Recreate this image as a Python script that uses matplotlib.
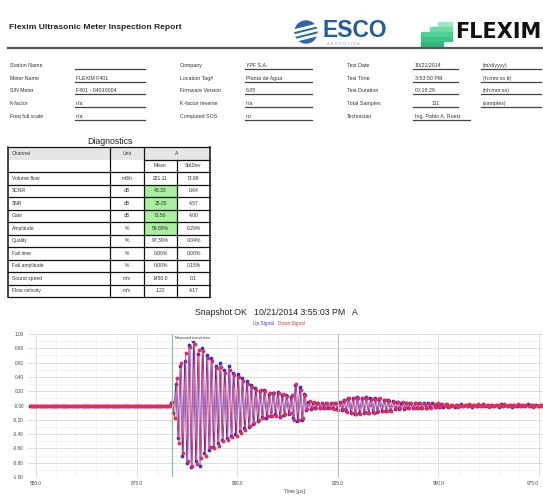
import matplotlib
matplotlib.use("Agg")
import matplotlib.pyplot as plt
from matplotlib.patches import Rectangle, Circle, Polygon
import numpy as np

plt.rcParams['font.family'] = ['Liberation Sans', 'DejaVu Sans']

# ---- report header / info data ----
report_title = "Flexim Ultrasonic Meter Inspection Report"

info_left_labels = ["Station Name", "Meter Name", "S/N Meter", "K-factor", "Freq full scale"]
info_left_values = ["", "FLEXIM F401", "F401 - 04010004", "n/a", "n/a"]
info_mid_labels = ["Company", "Location Tag#", "Firmware Version", "K-factor reverse", "Computed SOS"]
info_mid_values = ["YPF S.A.", "Planta de Agua", "6.05", "n/a", "no"]
info_right_labels = ["Test Date", "Test Time", "Test Duration", "Total Samples", "Technician"]
info_right_values = ["10/21/2014", "3:53:50 PM", "00:18:29", "111", "Ing. Pablo A. Ruetz"]
info_right_units = ["(m/d/yyyy)", "(h:mm:ss tt)", "(hh:mm:ss)", "(samples)", ""]

# ---- diagnostics table ----
diag_channels = ["Volume flow", "SCNR", "SNR", "Gain", "Amplitude", "Quality",
                 "Fail time", "Fail amplitude", "Sound speed", "Flow velocity"]
diag_units = ["m3/h", "dB", "dB", "dB", "%", "%", "%", "%", "m/s", "m/s"]
diag_mean = ["221.11", "43.33", "25.05", "73.50", "59.89%", "97.30%", "0.00%", "0.00%", "1450.0", "1.22"]
diag_std = ["73.99", "0.64", "4.57", "4.00", "0.29%", "0.04%", "0.00%", "0.15%", "0.1", "4.17"]
diag_green = [False, True, True, True, True, False, False, False, False, False]

# ---- snapshot signal data ----
chart_title = "Snapshot OK   10/21/2014 3:55:03 PM   A"
t_start = 848.4        # us, first sample
t_step = 0.55          # us, sample spacing
transit_marker = 883.8
end_marker = 925.0
x_ticks = [850.0, 875.0, 900.0, 925.0, 950.0, 975.0]

up_signal = [0.0] * 64 + [
    0.03, -0.10, 0.30, -0.45, 0.55, -0.70, 0.62, -0.80, 0.85, -0.86, 0.90, -0.78, 0.72, -0.84, 0.80, -0.66, 0.70,
    -0.62, 0.66, -0.58, 0.55, -0.52, 0.60, -0.48, 0.50, -0.46, 0.55, -0.42, 0.46, -0.40, 0.44, -0.36, 0.38,
    -0.32, 0.34, -0.30, 0.28, -0.26, 0.24, -0.22,
    0.20, -0.16, 0.22, -0.17, 0.16, -0.14, 0.18, -0.12, 0.19, -0.16, 0.15, -0.13, 0.14, -0.12, 0.12,
    -0.18, 0.28, -0.22, 0.26, -0.20, 0.16,
    -0.06, 0.05, -0.05, 0.04, -0.04, 0.04, -0.03, 0.03, -0.03, 0.03, -0.04, 0.03, -0.04, 0.04, -0.05, 0.05, -0.06, 0.07,
    -0.08, 0.10, -0.10, 0.11, -0.12, 0.12, -0.11, 0.11, -0.10, 0.12, -0.10, 0.10, -0.09, 0.10, -0.09, 0.09,
    -0.08, 0.08, -0.07, 0.07, -0.06, 0.06,
    -0.05, 0.05, -0.05, 0.04, -0.05, 0.04, -0.04, 0.04, -0.04, 0.03, -0.04, 0.03, -0.03, 0.03, -0.03, 0.03,
    -0.02, 0.03, -0.02, 0.02, -0.02, 0.02, -0.02, 0.02, -0.02,
    -0.01, 0.01, -0.015, 0.01, -0.01, 0.015, -0.01, 0.01, -0.01, 0.01,
    -0.015, 0.01, -0.01, 0.01, -0.01, 0.015, -0.01, 0.01, -0.01, 0.01,
    -0.01, 0.01, -0.02, 0.015, -0.01, 0.01, -0.01, 0.01, -0.015, 0.01,
    -0.01, 0.01, -0.01, 0.01, -0.01, 0.015, -0.01, 0.01, -0.01, 0.01,
    -0.01, 0.01, -0.01, 0.01, -0.015, 0.01, -0.01, 0.01, -0.01, 0.01,
]
down_signal = [0.0] * 64 + [
    0.05, -0.18, 0.38, -0.52, 0.60, -0.66, 0.74, -0.78, 0.82, -0.84, 0.86, -0.82, 0.78, -0.74, 0.76, -0.70, 0.66,
    -0.58, 0.62, -0.60, 0.52, -0.56, 0.54, -0.50, 0.46, -0.48, 0.50, -0.44, 0.42, -0.42, 0.40, -0.38, 0.34,
    -0.34, 0.30, -0.28, 0.26, -0.24, 0.22, -0.20,
    0.22, -0.18, 0.20, -0.15, 0.18, -0.15, 0.17, -0.14, 0.17, -0.14, 0.16, -0.12, 0.13, -0.11, 0.14,
    -0.20, 0.30, -0.20, 0.22, -0.18, 0.14,
    -0.05, 0.06, -0.04, 0.05, -0.03, 0.03, -0.04, 0.02, -0.03, 0.04, -0.03, 0.04, -0.05, 0.03, -0.06, 0.05, -0.05, 0.08,
    -0.09, 0.11, -0.11, 0.10, -0.12, 0.11, -0.12, 0.10, -0.09, 0.11, -0.10, 0.09, -0.10, 0.09, -0.08, 0.10,
    -0.07, 0.08, -0.08, 0.06, -0.07, 0.05,
    -0.04, 0.05, -0.04, 0.05, -0.04, 0.04, -0.03, 0.04, -0.03, 0.04, -0.03, 0.03, -0.04, 0.02, -0.03, 0.02,
    -0.03, 0.02, -0.02, 0.03, -0.02, 0.02, -0.01, 0.02, -0.02,
    0.01, -0.01, 0.01, -0.015, 0.01, -0.01, 0.01, -0.01, 0.015, -0.01,
    0.01, -0.01, 0.015, -0.01, 0.01, -0.01, 0.01, -0.015, 0.01, -0.01,
    0.01, -0.01, 0.01, -0.01, 0.015, -0.01, 0.01, -0.01, 0.01, -0.01,
    0.015, -0.01, 0.01, -0.01, 0.01, -0.01, 0.01, -0.015, 0.01, -0.01,
    0.01, -0.01, 0.01, -0.01, 0.01, -0.01, 0.015, -0.01, 0.01, -0.01,
]

W, H = 543, 498
fig = plt.figure(figsize=(W / 100, H / 100), dpi=100)
fig.patch.set_facecolor("white")

# page overlay in pixel coordinates
pg = fig.add_axes([0, 0, 1, 1])
pg.set_xlim(0, W)
pg.set_ylim(H, 0)
pg.axis("off")

# header
pg.text(9, 27, report_title, fontsize=6.1, fontweight="bold", va="center", color="#222")
pg.plot([8, 543], [48, 48], color="#555", lw=1.6)

# ESCO logo
pg.add_patch(Circle((306, 32), 11, color="#2a67a8"))
for dy in (-5, 0, 5):
    pg.add_patch(Polygon([(294, 32 + dy + 3), (318, 32 + dy - 3), (318, 32 + dy - 1.5), (294, 32 + dy + 4.5)],
                         color="white"))
pg.text(323, 36.5, "ESCO", fontsize=16.5, fontweight="bold", color="#1f5d9e", va="baseline")
pg.text(327, 43.8, "A R G E N T I N A", fontsize=3.0, color="#8fb0cf", va="center")

# FLEXIM logo
greens = ["#9be8c2", "#6fdba8", "#4fcf93", "#3cc386", "#2fb878"]
bars = [(438, 22, 14), (430, 27, 22), (421, 32, 31), (421, 37, 31), (421, 42, 22)]
for (x0, y0, w), c in zip(bars, greens):
    pg.add_patch(Rectangle((x0, y0), w, 4, color=c))
pg.text(455, 32, "FLEXIM", fontsize=15, fontweight="bold", color="#111", va="center",
        family="DejaVu Sans")

# info rows
row_y = [65, 78, 90, 103, 116]
fs_info = 3.8
for i, y in enumerate(row_y):
    pg.text(10, y, info_left_labels[i], fontsize=fs_info, va="center", color="#333")
    pg.text(76, y, info_left_values[i], fontsize=fs_info, va="center", color="#333")
    pg.plot([75, 145], [y + 4, y + 4], color="#444", lw=0.9)
    pg.text(180, y, info_mid_labels[i], fontsize=fs_info, va="center", color="#333")
    pg.text(246, y, info_mid_values[i], fontsize=fs_info, va="center", color="#333")
    pg.plot([245, 312], [y + 4, y + 4], color="#444", lw=0.9)
    pg.text(347, y, info_right_labels[i], fontsize=fs_info, va="center", color="#333")
    if info_right_labels[i] == "Total Samples":
        pg.text(436, y, info_right_values[i], fontsize=fs_info, va="center", ha="center", color="#333")
    else:
        pg.text(415, y, info_right_values[i], fontsize=fs_info, va="center", color="#333")
    pg.text(483, y, info_right_units[i], fontsize=fs_info, va="center", color="#333")
    if info_right_units[i]:
        pg.plot([413, 458], [y + 4, y + 4], color="#444", lw=0.9)
        pg.plot([481, 541], [y + 4, y + 4], color="#444", lw=0.9)
    else:
        pg.plot([413, 470], [y + 4, y + 4], color="#444", lw=0.9)

# diagnostics table
pg.text(110, 141, "Diagnostics", fontsize=6.3, ha="center", va="center", color="#222")
col_x = [8, 110, 144, 177, 210]
tab_top, row_h = 147, 12.5
n_rows = 2 + len(diag_channels)
tab_bot = tab_top + n_rows * row_h
fs_tab = 3.6
pg.add_patch(Rectangle((col_x[0], tab_top), col_x[-1] - col_x[0], row_h, color="#e6e6e6", lw=0))
for r in range(len(diag_channels)):
    y0 = tab_top + (r + 2) * row_h
    yc = y0 + row_h / 2
    if diag_green[r]:
        pg.add_patch(Rectangle((col_x[2], y0), col_x[3] - col_x[2], row_h, color="#a8ef9e", lw=0))
    pg.text(col_x[0] + 4, yc, diag_channels[r], fontsize=fs_tab, va="center", color="#333")
    pg.text((col_x[1] + col_x[2]) / 2, yc, diag_units[r], fontsize=fs_tab, va="center", ha="center", color="#333")
    pg.text((col_x[2] + col_x[3]) / 2, yc, diag_mean[r], fontsize=fs_tab, va="center", ha="center", color="#333")
    pg.text((col_x[3] + col_x[4]) / 2, yc, diag_std[r], fontsize=fs_tab, va="center", ha="center", color="#333")
pg.text(col_x[0] + 4, tab_top + row_h / 2, "Channel", fontsize=fs_tab, va="center", color="#333")
pg.text((col_x[1] + col_x[2]) / 2, tab_top + row_h / 2, "Unit", fontsize=fs_tab, va="center", ha="center", color="#333")
pg.text((col_x[2] + col_x[4]) / 2, tab_top + row_h / 2, "A", fontsize=fs_tab, va="center", ha="center", color="#333")
pg.text((col_x[2] + col_x[3]) / 2, tab_top + 1.5 * row_h, "Mean", fontsize=fs_tab, va="center", ha="center", color="#333")
pg.text((col_x[3] + col_x[4]) / 2, tab_top + 1.5 * row_h, "StdDev", fontsize=fs_tab, va="center", ha="center", color="#333")
for r in range(n_rows + 1):
    y = tab_top + r * row_h
    x_from = col_x[2] if r == 1 else col_x[0]
    pg.plot([x_from, col_x[-1]], [y, y], color="#111", lw=0.9)
for j, x in enumerate(col_x):
    y_from = tab_top + row_h if j == 3 else tab_top
    pg.plot([x, x], [y_from, tab_bot], color="#111", lw=1.1 if j in (0, 4) else 0.9)

# chart title + legend
pg.text(276, 312, chart_title, fontsize=6.3, ha="center", va="center", color="#222")
pg.text(274, 323, "Up Signal", fontsize=3.4, ha="right", va="center", color="#3a3ae0")
pg.text(278, 323, "Down Signal", fontsize=3.4, ha="left", va="center", color="#e02a40")

# snapshot chart
ax = fig.add_axes([28 / W, 1 - 477 / H, (560 - 28) / W, (477 - 334) / H])
t_up = t_start + t_step * np.arange(len(up_signal))
t_dn = t_start + t_step / 2 + t_step * np.arange(len(down_signal))
ax.plot(t_up, up_signal, color="#3030e0", lw=0.5, marker="o", ms=1.7, mec="#3030e0")
ax.plot(t_dn, down_signal, color="#ec2a4e", lw=0.5, marker="o", ms=1.7, mec="#ec2a4e")
ax.axvline(transit_marker, color="#7fc27f", lw=0.8)
ax.axvline(end_marker, color="#bbbbbb", lw=0.8)
ax.text(transit_marker + 0.8, 0.97, "Measured transit time", fontsize=2.6, va="top", color="#333",
        bbox=dict(facecolor="white", edgecolor="none", pad=0.5))
ax.set_xlim(848.0, 980.2)
ax.set_ylim(-1.0, 1.0)
ax.set_xticks(x_ticks)
ax.set_xticklabels([f"{v:.1f}" for v in x_ticks])
ax.get_xticklabels()[-1].set_ha("right")
ax.set_yticks(np.arange(-1.0, 1.01, 0.2))
ax.set_yticklabels([f"{v:.2f}" for v in np.arange(-1.0, 1.01, 0.2)])
ax.set_xticks(np.arange(850, 981, 5), minor=True)
ax.set_yticks(np.arange(-1.0, 1.01, 0.1), minor=True)
ax.grid(which="major", color="#d8d8d8", lw=0.6)
ax.grid(which="minor", color="#eeeeee", lw=0.5)
ax.tick_params(which="both", length=0, labelsize=3.4, labelcolor="#444", pad=3)
for s in ax.spines.values():
    s.set_visible(False)
ax.set_xlabel("Time [\u00b5s]", fontsize=3.6, color="#444", labelpad=2)

fig.savefig("out.png", dpi=100)
